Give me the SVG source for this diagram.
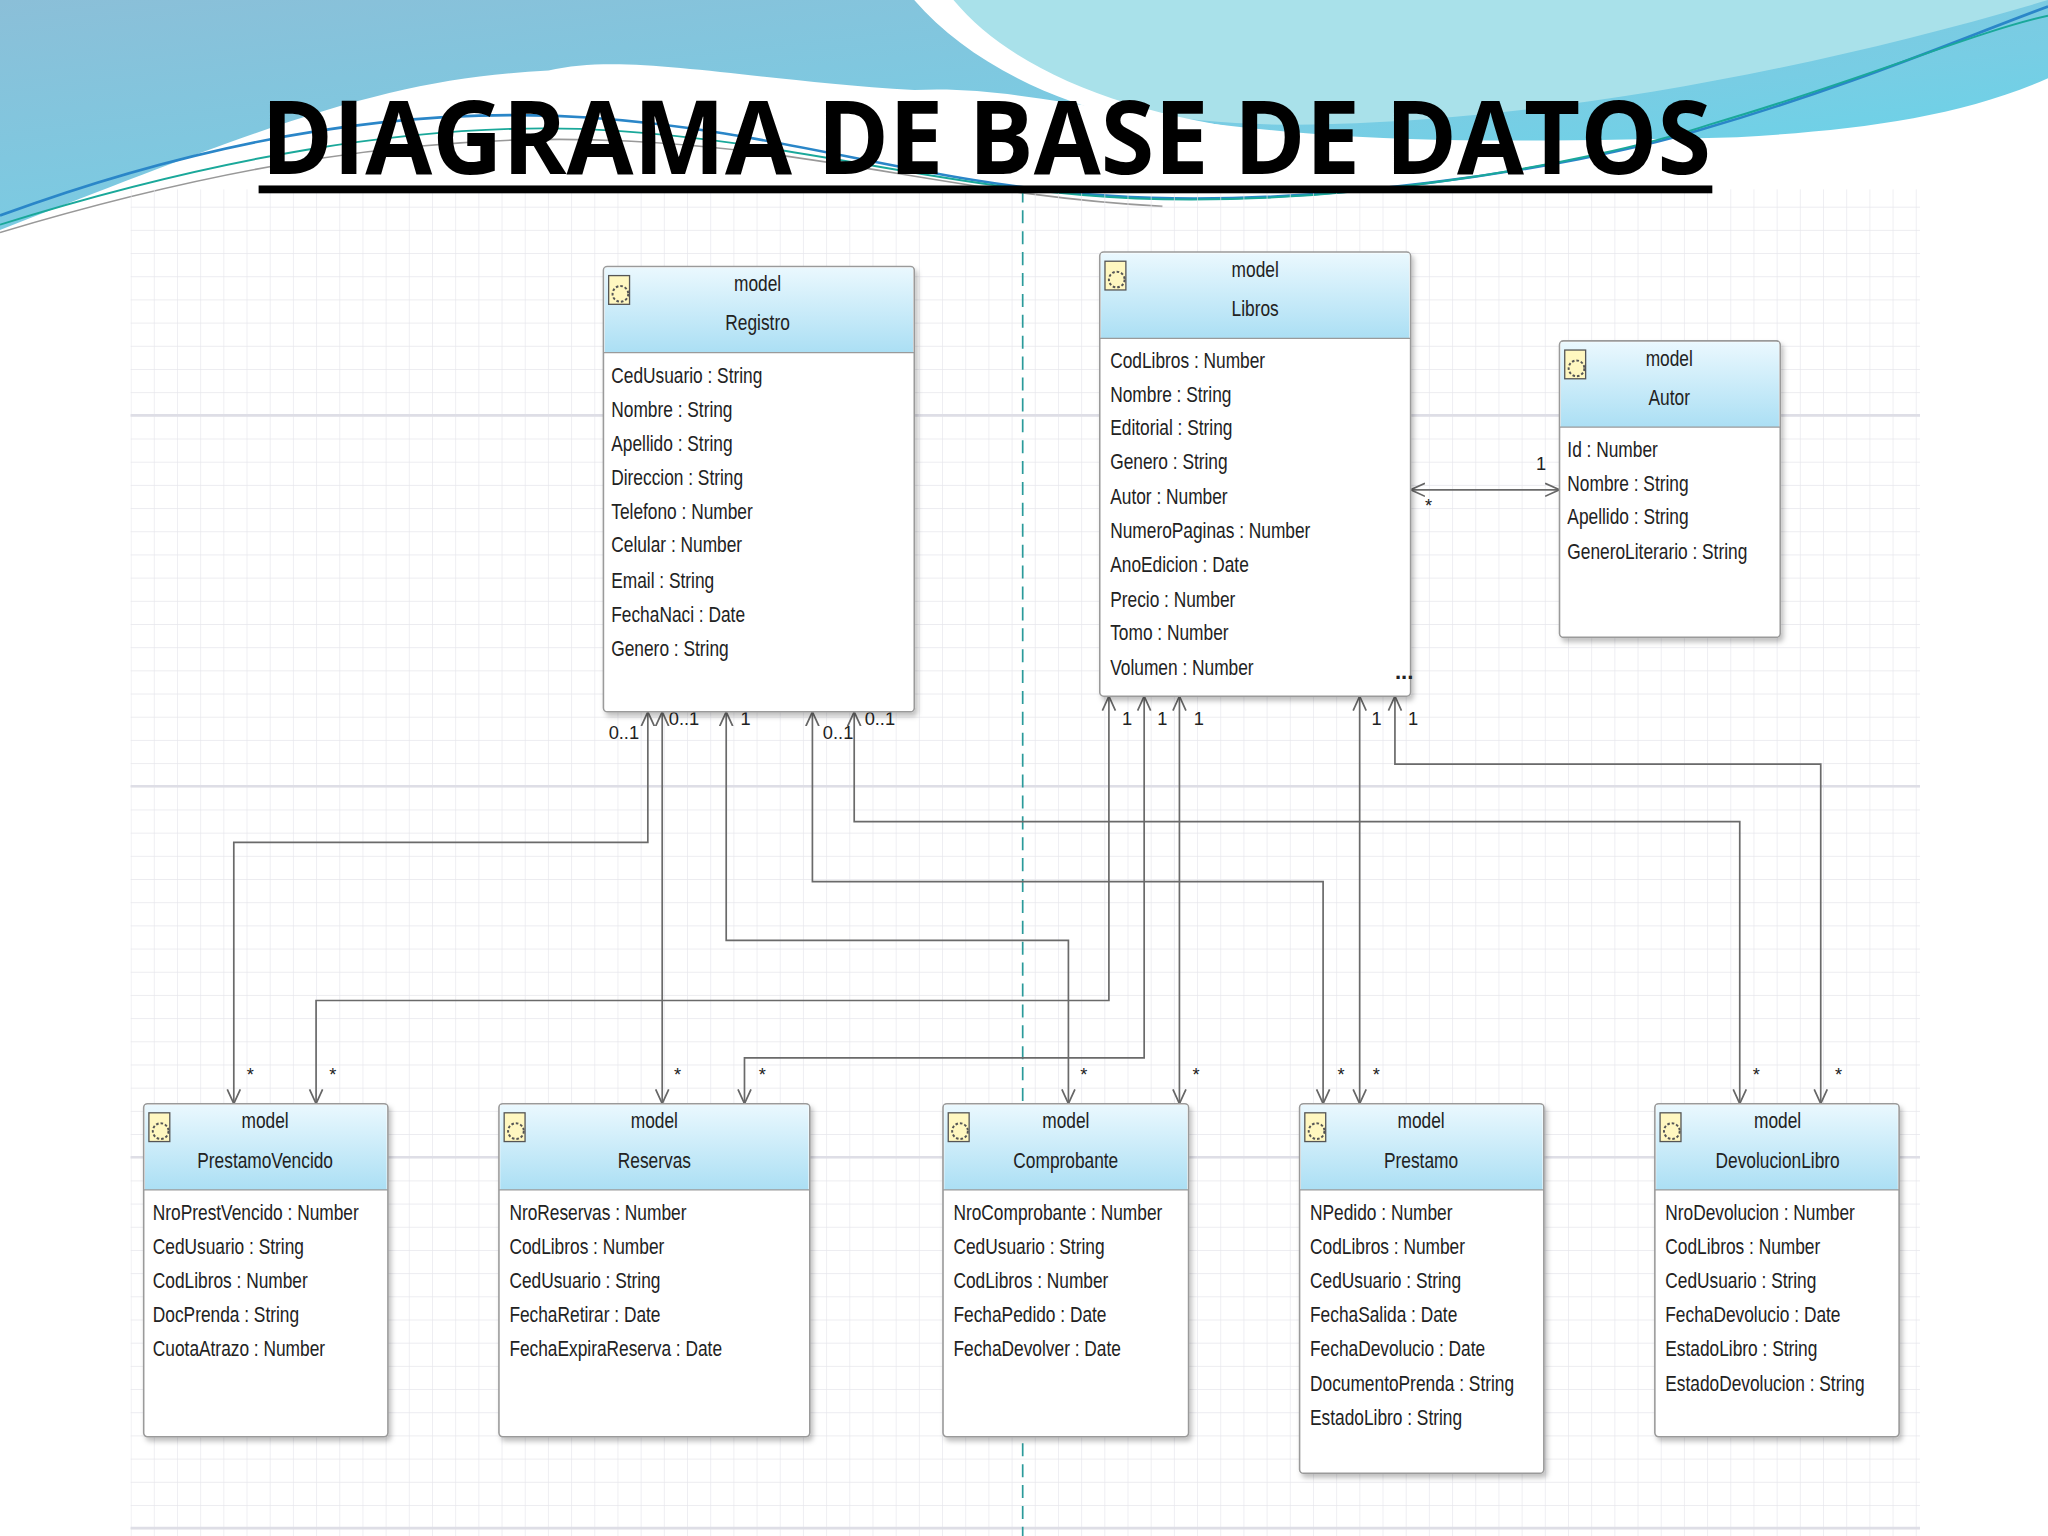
<svg xmlns="http://www.w3.org/2000/svg" width="2048" height="1536" viewBox="0 0 2048 1536">
<defs>
<linearGradient id="sky" x1="0" y1="0" x2="1" y2="1"><stop offset="0" stop-color="#8bbfd8"/><stop offset="0.6" stop-color="#78cde4"/><stop offset="1" stop-color="#5fd8ec"/></linearGradient>
<linearGradient id="hdr" x1="0" y1="0" x2="0" y2="1"><stop offset="0" stop-color="#eaf8fe"/><stop offset="1" stop-color="#abdff4"/></linearGradient>
<pattern id="grid" x="100" y="34" width="17.75" height="17.75" patternUnits="userSpaceOnUse"><path d="M0 0H17.75M0 0V17.75" stroke="#e6e6ec" stroke-width="1" fill="none"/></pattern>
<marker id="ar" viewBox="0 0 12 12" refX="11" refY="6" markerWidth="12" markerHeight="12" markerUnits="userSpaceOnUse" orient="auto-start-reverse"><path d="M0 1L11 6L0 11" fill="none" stroke="#666" stroke-width="1.3"/></marker>
<filter id="sh" x="-5%" y="-5%" width="115%" height="115%"><feDropShadow dx="2" dy="3" stdDeviation="2" flood-color="#000" flood-opacity="0.25"/></filter>
</defs>
<style>
.t{font-family:"Liberation Sans",Arial,sans-serif;font-size:17px;fill:#222}
.h{text-anchor:middle}
.c{fill:none;stroke:#6a6a6a;stroke-width:1.3;marker-start:url(#ar);marker-end:url(#ar)}
.box{fill:#fff;stroke:#9a9a9a;stroke-width:1.2;filter:url(#sh)}
.hd{fill:url(#hdr)}
.m{font-family:"Liberation Sans",Arial,sans-serif;font-size:14px;fill:#222}
</style>
<g transform="scale(1.306122)">
<rect width="1568" height="1176" fill="#fff"/>
<path d="M0 0H1568V60C1500 90 1420 100 1330 105C1200 108 1100 110 1000 102C850 90 780 65 700 69C560 60 480 40 420 54C300 60 220 90 0 176Z" fill="url(#sky)"/>
<path d="M700 0C760 70 880 100 1020 95C1200 90 1400 50 1568 0Z" fill="#a9e1ea"/>
<path d="M700 0C760 70 880 110 1010 105C880 95 780 60 730 0Z" fill="#ffffff"/>
<path d="M0 165C150 110 300 80 450 90C600 100 700 140 850 150C1000 160 1200 130 1300 100C1420 65 1500 30 1568 5" fill="none" stroke="#2a86c8" stroke-width="2"/>
<path d="M0 172C150 125 320 90 470 100C620 110 720 145 870 152C1020 158 1210 128 1310 95C1430 60 1510 25 1568 12" fill="none" stroke="#1aa89a" stroke-width="1.5"/>
<path d="M0 178C160 130 320 100 480 108C640 116 740 150 890 158" fill="none" stroke="#999" stroke-width="1.2"/>
<rect x="100" y="145" width="1370" height="1031" fill="url(#grid)"/>
<g stroke="#dedee6" stroke-width="2"><path d="M100 318H1470M100 602H1470M100 886H1470M100 1170H1470"/></g>
<path d="M783 145V1176" stroke="#2a9a9a" stroke-width="1.3" stroke-dasharray="10 6"/>
<text x="200" y="133" font-family="'Open Sans','Liberation Sans',sans-serif" font-weight="bold" font-size="78" textLength="1110" lengthAdjust="spacingAndGlyphs" fill="#000">DIAGRAMA DE BASE DE DATOS</text>
<rect x="198" y="142" width="1113" height="6" fill="#000"/>

<g id="connectors">
<path class="c" d="M496 545V645H179V845"/>
<path class="c" d="M507 545V845"/>
<path class="c" d="M556 545V720H818V845"/>
<path class="c" d="M622 545V675H1013V845"/>
<path class="c" d="M654 545V629H1332V845"/>
<path class="c" d="M849 533V766H242V845"/>
<path class="c" d="M876 533V810H570V845"/>
<path class="c" d="M903 533V845"/>
<path class="c" d="M1041 533V845"/>
<path class="c" d="M1068 533V585H1394V845"/>
<path class="c" d="M1080 375H1194"/>
<g class="m">
<text x="466" y="566">0..1</text><text x="512" y="555">0..1</text><text x="567" y="555">1</text><text x="630" y="566">0..1</text><text x="662" y="555">0..1</text>
<text x="859" y="555">1</text><text x="886" y="555">1</text><text x="914" y="555">1</text><text x="1050" y="555">1</text><text x="1078" y="555">1</text>
<text x="1176" y="360">1</text><text x="1091" y="392">*</text>
<text x="189" y="828">*</text><text x="252" y="828">*</text><text x="516" y="828">*</text><text x="581" y="828">*</text><text x="827" y="828">*</text><text x="913" y="828">*</text><text x="1024" y="828">*</text><text x="1051" y="828">*</text><text x="1342" y="828">*</text><text x="1405" y="828">*</text>
</g>
</g>

<g id="Registro">
<rect class="box" x="462" y="204" width="238" height="341" rx="3"/><rect class="hd" x="463" y="205" width="236" height="65"/><path d="M462 270H700" stroke="#9a9a9a"/>
<rect x="466" y="211" width="16" height="22" fill="#fff7c0" stroke="#555"/><circle cx="475" cy="225" r="6" fill="none" stroke="#555" stroke-width="1.5" stroke-dasharray="2 1.5"/>
<g class="t h" transform="translate(580 0) scale(0.78 1) translate(-580 0)"><text x="580" y="223">model</text><text x="580" y="253">Registro</text></g>
<g class="t" transform="translate(468 0) scale(0.78 1) translate(-468 0)"><text x="468" y="293">CedUsuario : String</text><text x="468" y="319">Nombre : String</text><text x="468" y="345">Apellido : String</text><text x="468" y="371">Direccion : String</text><text x="468" y="397">Telefono : Number</text><text x="468" y="423">Celular : Number</text><text x="468" y="450">Email : String</text><text x="468" y="476">FechaNaci : Date</text><text x="468" y="502">Genero : String</text></g>
</g>

<g id="Libros">
<rect class="box" x="842" y="193" width="238" height="340" rx="3"/><rect class="hd" x="843" y="194" width="236" height="65"/><path d="M842 259H1080" stroke="#9a9a9a"/>
<rect x="846" y="200" width="16" height="22" fill="#fff7c0" stroke="#555"/><circle cx="855" cy="214" r="6" fill="none" stroke="#555" stroke-width="1.5" stroke-dasharray="2 1.5"/>
<g class="t h" transform="translate(961 0) scale(0.78 1) translate(-961 0)"><text x="961" y="212">model</text><text x="961" y="242">Libros</text></g>
<g class="t" transform="translate(850 0) scale(0.78 1) translate(-850 0)"><text x="850" y="282">CodLibros : Number</text><text x="850" y="308">Nombre : String</text><text x="850" y="333">Editorial : String</text><text x="850" y="359">Genero : String</text><text x="850" y="386">Autor : Number</text><text x="850" y="412">NumeroPaginas : Number</text><text x="850" y="438">AnoEdicion : Date</text><text x="850" y="465">Precio : Number</text><text x="850" y="490">Tomo : Number</text><text x="850" y="517">Volumen : Number</text></g>
<text class="t" x="1068" y="520" font-weight="bold" font-size="13">...</text>
</g>

<g id="Autor">
<rect class="box" x="1194" y="261" width="169" height="227" rx="3"/><rect class="hd" x="1195" y="262" width="167" height="65"/><path d="M1194 327H1363" stroke="#9a9a9a"/>
<rect x="1198" y="268" width="16" height="22" fill="#fff7c0" stroke="#555"/><circle cx="1207" cy="282" r="6" fill="none" stroke="#555" stroke-width="1.5" stroke-dasharray="2 1.5"/>
<g class="t h" transform="translate(1278 0) scale(0.78 1) translate(-1278 0)"><text x="1278" y="280">model</text><text x="1278" y="310">Autor</text></g>
<g class="t" transform="translate(1200 0) scale(0.78 1) translate(-1200 0)"><text x="1200" y="350">Id : Number</text><text x="1200" y="376">Nombre : String</text><text x="1200" y="401">Apellido : String</text><text x="1200" y="428">GeneroLiterario : String</text></g>
</g>

<g id="PrestamoVencido">
<rect class="box" x="110" y="845" width="187" height="255" rx="3"/><rect class="hd" x="111" y="846" width="185" height="65"/><path d="M110 911H297" stroke="#9a9a9a"/>
<rect x="114" y="852" width="16" height="22" fill="#fff7c0" stroke="#555"/><circle cx="123" cy="866" r="6" fill="none" stroke="#555" stroke-width="1.5" stroke-dasharray="2 1.5"/>
<g class="t h" transform="translate(203 0) scale(0.78 1) translate(-203 0)"><text x="203" y="864">model</text><text x="203" y="894">PrestamoVencido</text></g>
<g class="t" transform="translate(117 0) scale(0.78 1) translate(-117 0)"><text x="117" y="934">NroPrestVencido : Number</text><text x="117" y="960">CedUsuario : String</text><text x="117" y="986">CodLibros : Number</text><text x="117" y="1012">DocPrenda : String</text><text x="117" y="1038">CuotaAtrazo : Number</text></g>
</g>

<g id="Reservas">
<rect class="box" x="382" y="845" width="238" height="255" rx="3"/><rect class="hd" x="383" y="846" width="236" height="65"/><path d="M382 911H620" stroke="#9a9a9a"/>
<rect x="386" y="852" width="16" height="22" fill="#fff7c0" stroke="#555"/><circle cx="395" cy="866" r="6" fill="none" stroke="#555" stroke-width="1.5" stroke-dasharray="2 1.5"/>
<g class="t h" transform="translate(501 0) scale(0.78 1) translate(-501 0)"><text x="501" y="864">model</text><text x="501" y="894">Reservas</text></g>
<g class="t" transform="translate(390 0) scale(0.78 1) translate(-390 0)"><text x="390" y="934">NroReservas : Number</text><text x="390" y="960">CodLibros : Number</text><text x="390" y="986">CedUsuario : String</text><text x="390" y="1012">FechaRetirar : Date</text><text x="390" y="1038">FechaExpiraReserva : Date</text></g>
</g>

<g id="Comprobante">
<rect class="box" x="722" y="845" width="188" height="255" rx="3"/><rect class="hd" x="723" y="846" width="186" height="65"/><path d="M722 911H910" stroke="#9a9a9a"/>
<rect x="726" y="852" width="16" height="22" fill="#fff7c0" stroke="#555"/><circle cx="735" cy="866" r="6" fill="none" stroke="#555" stroke-width="1.5" stroke-dasharray="2 1.5"/>
<g class="t h" transform="translate(816 0) scale(0.78 1) translate(-816 0)"><text x="816" y="864">model</text><text x="816" y="894">Comprobante</text></g>
<g class="t" transform="translate(730 0) scale(0.78 1) translate(-730 0)"><text x="730" y="934">NroComprobante : Number</text><text x="730" y="960">CedUsuario : String</text><text x="730" y="986">CodLibros : Number</text><text x="730" y="1012">FechaPedido : Date</text><text x="730" y="1038">FechaDevolver : Date</text></g>
</g>

<g id="Prestamo">
<rect class="box" x="995" y="845" width="187" height="283" rx="3"/><rect class="hd" x="996" y="846" width="185" height="65"/><path d="M995 911H1182" stroke="#9a9a9a"/>
<rect x="999" y="852" width="16" height="22" fill="#fff7c0" stroke="#555"/><circle cx="1008" cy="866" r="6" fill="none" stroke="#555" stroke-width="1.5" stroke-dasharray="2 1.5"/>
<g class="t h" transform="translate(1088 0) scale(0.78 1) translate(-1088 0)"><text x="1088" y="864">model</text><text x="1088" y="894">Prestamo</text></g>
<g class="t" transform="translate(1003 0) scale(0.78 1) translate(-1003 0)"><text x="1003" y="934">NPedido : Number</text><text x="1003" y="960">CodLibros : Number</text><text x="1003" y="986">CedUsuario : String</text><text x="1003" y="1012">FechaSalida : Date</text><text x="1003" y="1038">FechaDevolucio : Date</text><text x="1003" y="1065">DocumentoPrenda : String</text><text x="1003" y="1091">EstadoLibro : String</text></g>
</g>

<g id="DevolucionLibro">
<rect class="box" x="1267" y="845" width="187" height="255" rx="3"/><rect class="hd" x="1268" y="846" width="185" height="65"/><path d="M1267 911H1454" stroke="#9a9a9a"/>
<rect x="1271" y="852" width="16" height="22" fill="#fff7c0" stroke="#555"/><circle cx="1280" cy="866" r="6" fill="none" stroke="#555" stroke-width="1.5" stroke-dasharray="2 1.5"/>
<g class="t h" transform="translate(1361 0) scale(0.78 1) translate(-1361 0)"><text x="1361" y="864">model</text><text x="1361" y="894">DevolucionLibro</text></g>
<g class="t" transform="translate(1275 0) scale(0.78 1) translate(-1275 0)"><text x="1275" y="934">NroDevolucion : Number</text><text x="1275" y="960">CodLibros : Number</text><text x="1275" y="986">CedUsuario : String</text><text x="1275" y="1012">FechaDevolucio : Date</text><text x="1275" y="1038">EstadoLibro : String</text><text x="1275" y="1065">EstadoDevolucion : String</text></g>
</g>
</g>
</svg>
